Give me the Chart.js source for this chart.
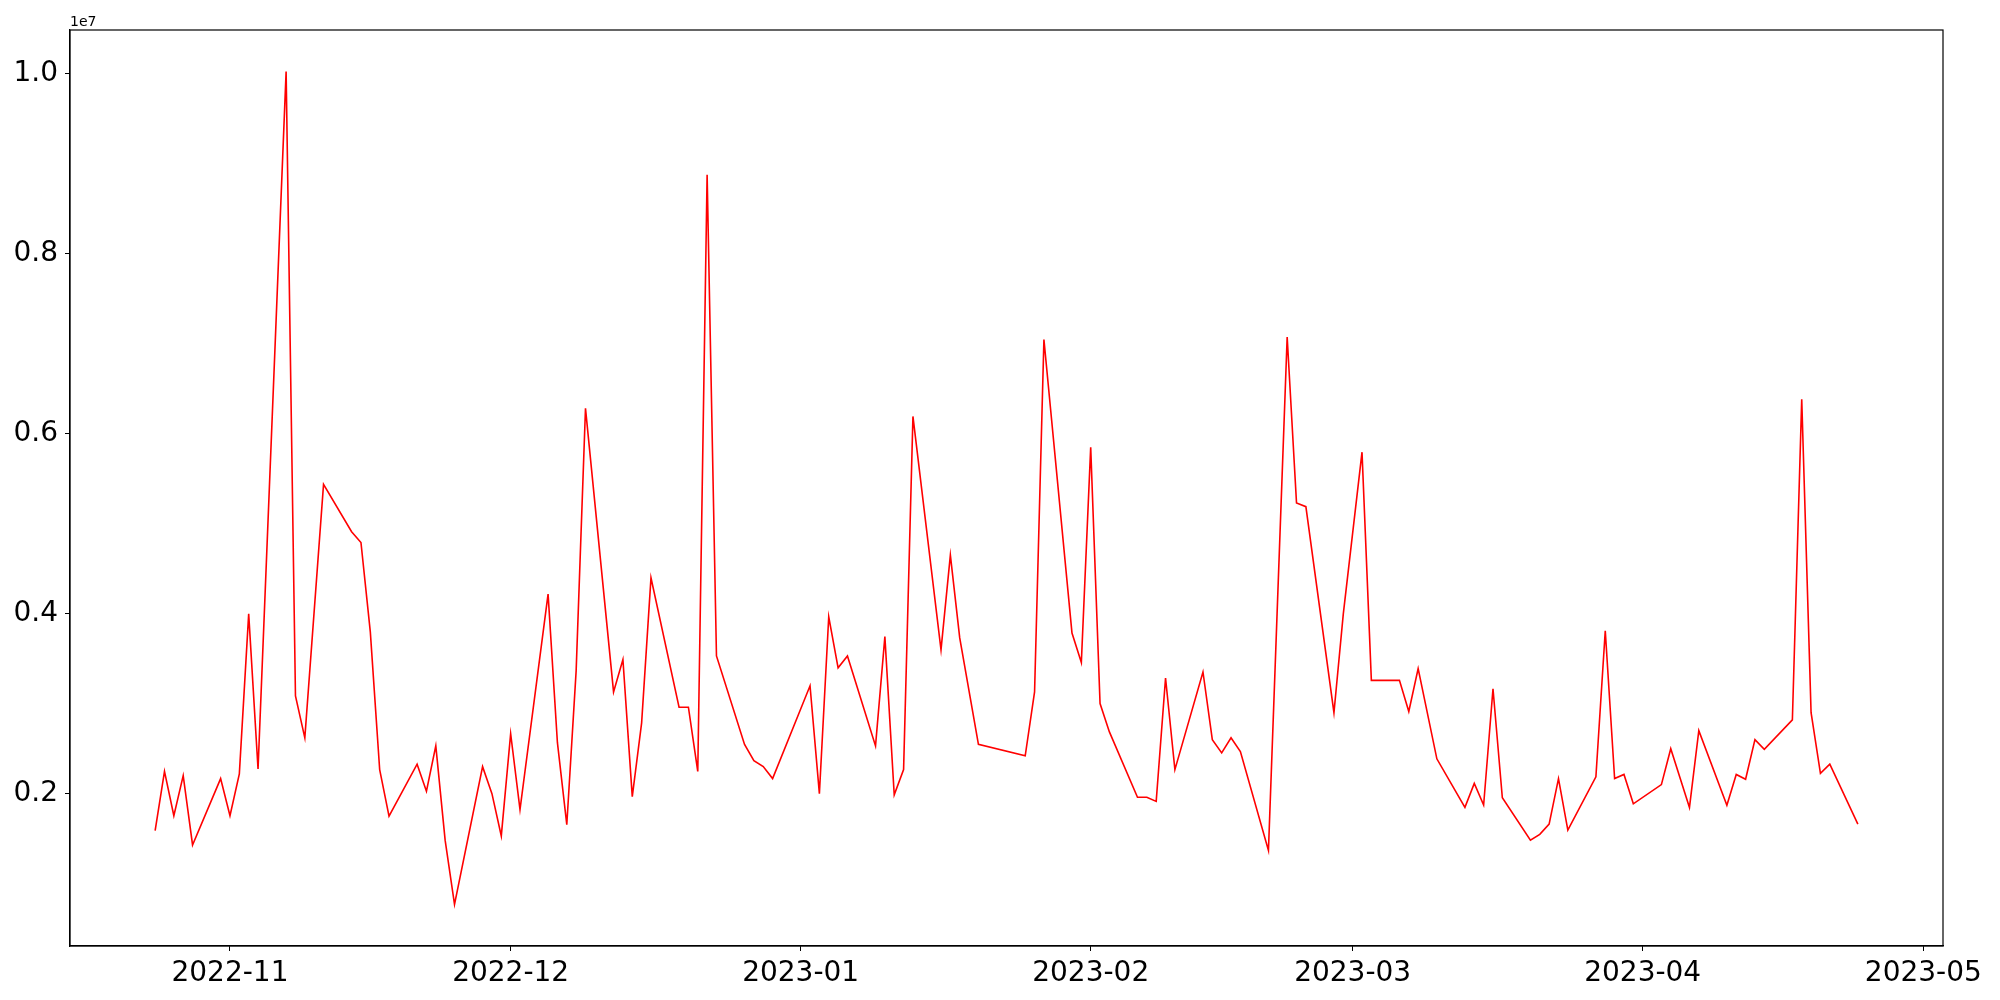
<!DOCTYPE html>
<html lang="en">
<head>
    <meta charset="UTF-8">
    <title>Daily series</title>
    <script src="https://cdn.jsdelivr.net/npm/chart.js"></script>
    <style>
        html, body { margin: 0; padding: 0; background: #fff; }
        #wrap { width: 2000px; height: 1000px; }
    </style>
</head>
<body>
    <div id="wrap"><canvas id="chart" width="2000" height="1000"></canvas></div>

    <script>
        // trading days
        const dates = [
            '2022-10-24','2022-10-25','2022-10-26','2022-10-27','2022-10-28',
            '2022-10-31','2022-11-01','2022-11-02','2022-11-03','2022-11-04',
            '2022-11-07','2022-11-08','2022-11-09','2022-11-11',
            '2022-11-14','2022-11-15','2022-11-16','2022-11-17','2022-11-18',
            '2022-11-21','2022-11-22','2022-11-23','2022-11-24','2022-11-25',
            '2022-11-28','2022-11-29','2022-11-30','2022-12-01','2022-12-02',
            '2022-12-05','2022-12-06','2022-12-07','2022-12-08','2022-12-09',
            '2022-12-12','2022-12-13','2022-12-14','2022-12-15','2022-12-16',
            '2022-12-19','2022-12-20','2022-12-21','2022-12-22','2022-12-23',
            '2022-12-26','2022-12-27','2022-12-28','2022-12-29',
            '2023-01-02','2023-01-03','2023-01-04','2023-01-05','2023-01-06',
            '2023-01-09','2023-01-10','2023-01-11','2023-01-12','2023-01-13',
            '2023-01-16','2023-01-17','2023-01-18','2023-01-20',
            '2023-01-25','2023-01-26','2023-01-27',
            '2023-01-30','2023-01-31','2023-02-01','2023-02-02','2023-02-03',
            '2023-02-06','2023-02-07','2023-02-08','2023-02-09','2023-02-10',
            '2023-02-13','2023-02-14','2023-02-15','2023-02-16','2023-02-17',
            '2023-02-20','2023-02-22','2023-02-23','2023-02-24',
            '2023-02-27','2023-02-28','2023-03-02','2023-03-03',
            '2023-03-06','2023-03-07','2023-03-08','2023-03-10',
            '2023-03-13','2023-03-14','2023-03-15','2023-03-16','2023-03-17',
            '2023-03-20','2023-03-21','2023-03-22','2023-03-23','2023-03-24',
            '2023-03-27','2023-03-28','2023-03-29','2023-03-30','2023-03-31',
            '2023-04-03','2023-04-04','2023-04-06','2023-04-07',
            '2023-04-10','2023-04-11','2023-04-12','2023-04-13','2023-04-14',
            '2023-04-17','2023-04-18','2023-04-19','2023-04-20','2023-04-21',
            '2023-04-24'
        ];

        const values = [
            1590000, 2247000, 1755000, 2200000, 1430000,
            2167000, 1755000, 2220000, 3997000, 2273000,
            10020000, 3086000, 2620000, 5435000,
            4910000, 4790000, 3797000, 2267000, 1750000,
            2327000, 2027000, 2530000, 1480000, 770000,
            2300000, 2000000, 1530000, 2666000, 1822000,
            4217000, 2566000, 1655000, 3364000, 6280000,
            3130000, 3490000, 1967000, 2786000, 4397000,
            2960000, 2960000, 2247000, 8875000, 3530000,
            2547000, 2367000, 2300000, 2167000,
            3198000, 2000000, 3964000, 3398000, 3530000,
            2530000, 3744000, 1987000, 2267000, 6190000,
            3597000, 4649000, 3730000, 2547000,
            2420000, 3130000, 7045000,
            3784000, 3458000, 5847000, 3000000, 2686000,
            1960000, 1960000, 1914000, 3284000, 2267000,
            3351000, 2600000, 2453000, 2620000, 2467000,
            1370000, 7072000, 5228000, 5188000,
            2899000, 3997000, 5793000, 3258000,
            3258000, 2913000, 3390000, 2387000,
            1847000, 2113000, 1874000, 3165000, 1954000,
            1482000, 1548000, 1661000, 2167000, 1594000,
            2187000, 3810000, 2167000, 2213000, 1887000,
            2100000, 2499000, 1847000, 2700000,
            1870000, 2213000, 2160000, 2600000, 2493000,
            2819000, 6380000, 2899000, 2226000, 2327000,
            1661000
        ];

        const xTickLabels = ['2022-11', '2022-12', '2023-01', '2023-02', '2023-03', '2023-04', '2023-05'];
        const yTickValues = [0.2, 0.4, 0.6, 0.8, 1.0];
        const yOffsetLabel = '1e7';

        function toTime(s) {
            const p = s.split('-').map(Number);
            return Date.UTC(p[0], p[1] - 1, p[2] || 1);
        }

        const points = dates.map((d, i) => ({ x: toTime(d), y: values[i] }));
        const xTicks = xTickLabels.map(toTime);

        // matplotlib style 5% margins
        const xs = points.map(p => p.x);
        const xMin = Math.min(...xs), xMax = Math.max(...xs);
        const yMin = Math.min(...values), yMax = Math.max(...values);
        const xPad = (xMax - xMin) * 0.05, yPad = (yMax - yMin) * 0.05;

        const font = { family: 'DejaVu Sans', size: 28 };

        const framePlugin = {
            id: 'frame',
            afterDraw(chart) {
                const a = chart.chartArea;
                const ctx = chart.ctx;
                ctx.save();
                ctx.strokeStyle = '#000';
                ctx.lineWidth = 1.2;
                ctx.strokeRect(a.left, a.top, a.right - a.left, a.bottom - a.top);
                ctx.fillStyle = '#000';
                ctx.font = '14px "DejaVu Sans"';
                ctx.textAlign = 'left';
                ctx.textBaseline = 'alphabetic';
                ctx.fillText(yOffsetLabel, a.left, a.top - 4);
                ctx.restore();
            }
        };

        new Chart(document.getElementById('chart').getContext('2d'), {
            type: 'line',
            data: {
                datasets: [{
                    data: points,
                    borderColor: 'red',
                    borderWidth: 1.6,
                    pointRadius: 0,
                    tension: 0,
                    fill: false
                }]
            },
            options: {
                responsive: false,
                animation: false,
                devicePixelRatio: 1,
                layout: { padding: { top: 30, right: 57, left: 0, bottom: 0 } },
                plugins: {
                    legend: { display: false },
                    tooltip: { enabled: false }
                },
                scales: {
                    x: {
                        type: 'linear',
                        min: xMin - xPad,
                        max: xMax + xPad,
                        afterBuildTicks: s => { s.ticks = xTicks.map(v => ({ value: v })); },
                        afterFit: s => { s.height = 54; },
                        ticks: {
                            color: '#000',
                            font: font,
                            padding: 6,
                            maxRotation: 0,
                            autoSkip: false,
                            callback: v => xTickLabels[xTicks.indexOf(v)]
                        },
                        grid: { drawOnChartArea: false, drawTicks: true, tickLength: 5, color: '#000' },
                        border: { display: true, color: '#000', width: 1.2 }
                    },
                    y: {
                        type: 'linear',
                        min: yMin - yPad,
                        max: yMax + yPad,
                        afterBuildTicks: s => { s.ticks = yTickValues.map(v => ({ value: v * 1e7 })); },
                        afterFit: s => { s.width = 70; },
                        ticks: {
                            color: '#000',
                            font: font,
                            padding: 7,
                            autoSkip: false,
                            callback: v => (v / 1e7).toFixed(1)
                        },
                        grid: { drawOnChartArea: false, drawTicks: true, tickLength: 5, color: '#000' },
                        border: { display: true, color: '#000', width: 1.2 }
                    }
                }
            },
            plugins: [framePlugin]
        });
    </script>
</body>
</html>
